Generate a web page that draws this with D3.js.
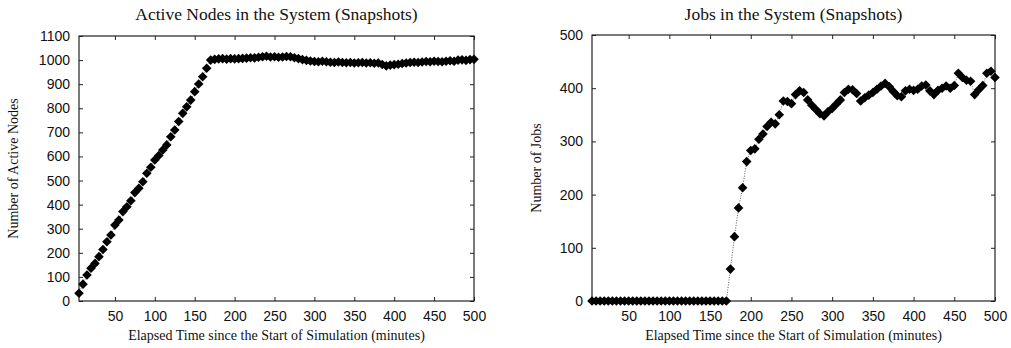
<!DOCTYPE html>
<html>
<head>
<meta charset="utf-8">
<script src="https://cdn.jsdelivr.net/npm/d3@7"></script>
<style>
  body { margin: 0; background: #fff; }
  svg { display: block; }
</style>
</head>
<body>
<svg id="chart" width="1011" height="348"></svg>
<script>
// Snapshot times (minutes since the start of the simulation)
const minutes = [
  5, 10, 15, 20, 25, 30, 35, 40, 45, 50, 55, 60, 65, 70, 75, 80, 85, 90, 95, 100,
  105, 110, 115, 120, 125, 130, 135, 140, 145, 150, 155, 160, 165, 170, 175, 180, 185, 190, 195, 200,
  205, 210, 215, 220, 225, 230, 235, 240, 245, 250, 255, 260, 265, 270, 275, 280, 285, 290, 295, 300,
  305, 310, 315, 320, 325, 330, 335, 340, 345, 350, 355, 360, 365, 370, 375, 380, 385, 390, 395, 400,
  405, 410, 415, 420, 425, 430, 435, 440, 445, 450, 455, 460, 465, 470, 475, 480, 485, 490, 495, 500
];

// Active nodes at each snapshot
const activeNodes = [
  32, 70, 108, 136, 156, 184, 214, 246, 274, 315, 336, 371, 391, 416, 450, 468, 495, 530, 555, 585,
  604, 627, 648, 682, 710, 745, 779, 806, 834, 869, 901, 931, 966, 1000, 1003, 1005, 1006, 1004, 1006, 1005,
  1006, 1007, 1008, 1010, 1009, 1012, 1014, 1016, 1013, 1014, 1012, 1013, 1015, 1014, 1010, 1006, 1002, 999, 996, 994,
  993, 995, 993, 991, 990, 992, 990, 989, 990, 988, 989, 990, 988, 989, 987, 988, 982, 976, 979, 981,
  983, 986, 988, 990, 991, 990, 992, 994, 993, 995, 994, 993, 995, 997, 995, 1000, 1001, 999, 1002, 1003
];

// Jobs in the system at each snapshot
const jobs = [
  0, 0, 0, 0, 0, 0, 0, 0, 0, 0, 0, 0, 0, 0, 0, 0, 0, 0, 0, 0,
  0, 0, 0, 0, 0, 0, 0, 0, 0, 0, 0, 0, 0, 0, 60, 121, 175, 213, 262, 283,
  286, 304, 314, 328, 336, 333, 350, 376, 375, 371, 388, 395, 392, 378, 368, 360, 352, 348, 356, 362,
  370, 378, 392, 398, 397, 390, 376, 382, 387, 392, 398, 404, 409, 403, 394, 386, 384, 395, 398, 396,
  398, 404, 406, 395, 388, 396, 400, 404, 400, 405, 428, 420, 415, 413, 388, 397, 405, 428, 432, 420
];

const xTicks = [50, 100, 150, 200, 250, 300, 350, 400, 450, 500];
const nodeTicks = [0, 100, 200, 300, 400, 500, 600, 700, 800, 900, 1000, 1100];
const jobTicks = [0, 100, 200, 300, 400, 500];

const titles = ["Active Nodes in the System (Snapshots)", "Jobs in the System (Snapshots)"];
const yLabels = ["Number of Active Nodes", "Number of Jobs"];
const xLabel = "Elapsed Time since the Start of Simulation (minutes)";

const svg = d3.select("#chart");
const serif = "'Liberation Serif', 'Times New Roman', serif";
const sans = "'Liberation Sans', Arial, Helvetica, sans-serif";
const fmt = d3.format("d");

// Filled diamond marker (square turned 45 degrees)
function diamond(r) {
  return `M0,${-r}L${r},0L0,${r}L${-r},0Z`;
}

function drawPanel(cfg) {
  const { left, right, top, bottom, values, yMax, yTicks, title, yLabel, yLabelX } = cfg;
  const x = d3.scaleLinear().domain([5, 500]).range([left, right]);
  const y = d3.scaleLinear().domain([0, yMax]).range([bottom, top]);
  const g = svg.append("g");
  const tickLen = 4;

  // mirrored inward ticks
  g.append("g").attr("transform", `translate(0,${bottom})`)
    .call(d3.axisBottom(x).tickValues(xTicks).tickFormat(fmt).tickSize(-tickLen).tickPadding(10).tickSizeOuter(0))
    .call(a => a.select(".domain").remove());
  g.append("g").attr("transform", `translate(0,${top})`)
    .call(d3.axisTop(x).tickValues(xTicks).tickSize(-tickLen).tickFormat("").tickSizeOuter(0))
    .call(a => a.select(".domain").remove());
  g.append("g").attr("transform", `translate(${left},0)`)
    .call(d3.axisLeft(y).tickValues(yTicks).tickFormat(fmt).tickSize(-tickLen).tickPadding(9).tickSizeOuter(0))
    .call(a => a.select(".domain").remove());
  g.append("g").attr("transform", `translate(${right},0)`)
    .call(d3.axisRight(y).tickValues(yTicks).tickSize(-tickLen).tickFormat("").tickSizeOuter(0))
    .call(a => a.select(".domain").remove());

  g.selectAll(".tick line").attr("stroke", "#222").attr("stroke-width", 1);
  g.selectAll(".tick text")
    .attr("fill", "#111")
    .style("font-family", sans)
    .style("font-size", "14px");

  // plot frame
  g.append("rect")
    .attr("x", left).attr("y", top)
    .attr("width", right - left).attr("height", bottom - top)
    .attr("fill", "none").attr("stroke", "#222").attr("stroke-width", 1.2);

  const pts = minutes.map((m, i) => [m, values[i]]);

  // dotted connecting line
  g.append("path")
    .datum(pts)
    .attr("fill", "none")
    .attr("stroke", "#333")
    .attr("stroke-width", 0.8)
    .attr("stroke-dasharray", "1,1.5")
    .attr("d", d3.line().x(d => x(d[0])).y(d => y(d[1])));

  g.selectAll("path.pt")
    .data(pts)
    .join("path")
    .attr("class", "pt")
    .attr("d", diamond(4.8))
    .attr("transform", d => `translate(${x(d[0])},${y(d[1])})`)
    .attr("fill", "#000");

  const cx = (left + right) / 2;
  g.append("text")
    .attr("x", cx).attr("y", 20)
    .attr("text-anchor", "middle")
    .style("font-family", serif).style("font-size", "17.5px")
    .attr("fill", "#111")
    .text(title);

  g.append("text")
    .attr("x", cx).attr("y", 340)
    .attr("text-anchor", "middle")
    .style("font-family", serif).style("font-size", "14px")
    .attr("fill", "#111")
    .text(xLabel);

  g.append("text")
    .attr("transform", `translate(${yLabelX},${(top + bottom) / 2}) rotate(-90)`)
    .attr("text-anchor", "middle")
    .style("font-family", serif).style("font-size", "14px")
    .attr("fill", "#111")
    .text(yLabel);
}

drawPanel({
  left: 79, right: 474, top: 36, bottom: 301,
  values: activeNodes, yMax: 1100, yTicks: nodeTicks,
  title: titles[0], yLabel: yLabels[0], yLabelX: 18
});

drawPanel({
  left: 592, right: 995, top: 35, bottom: 301,
  values: jobs, yMax: 500, yTicks: jobTicks,
  title: titles[1], yLabel: yLabels[1], yLabelX: 541
});
</script>
</body>
</html>
